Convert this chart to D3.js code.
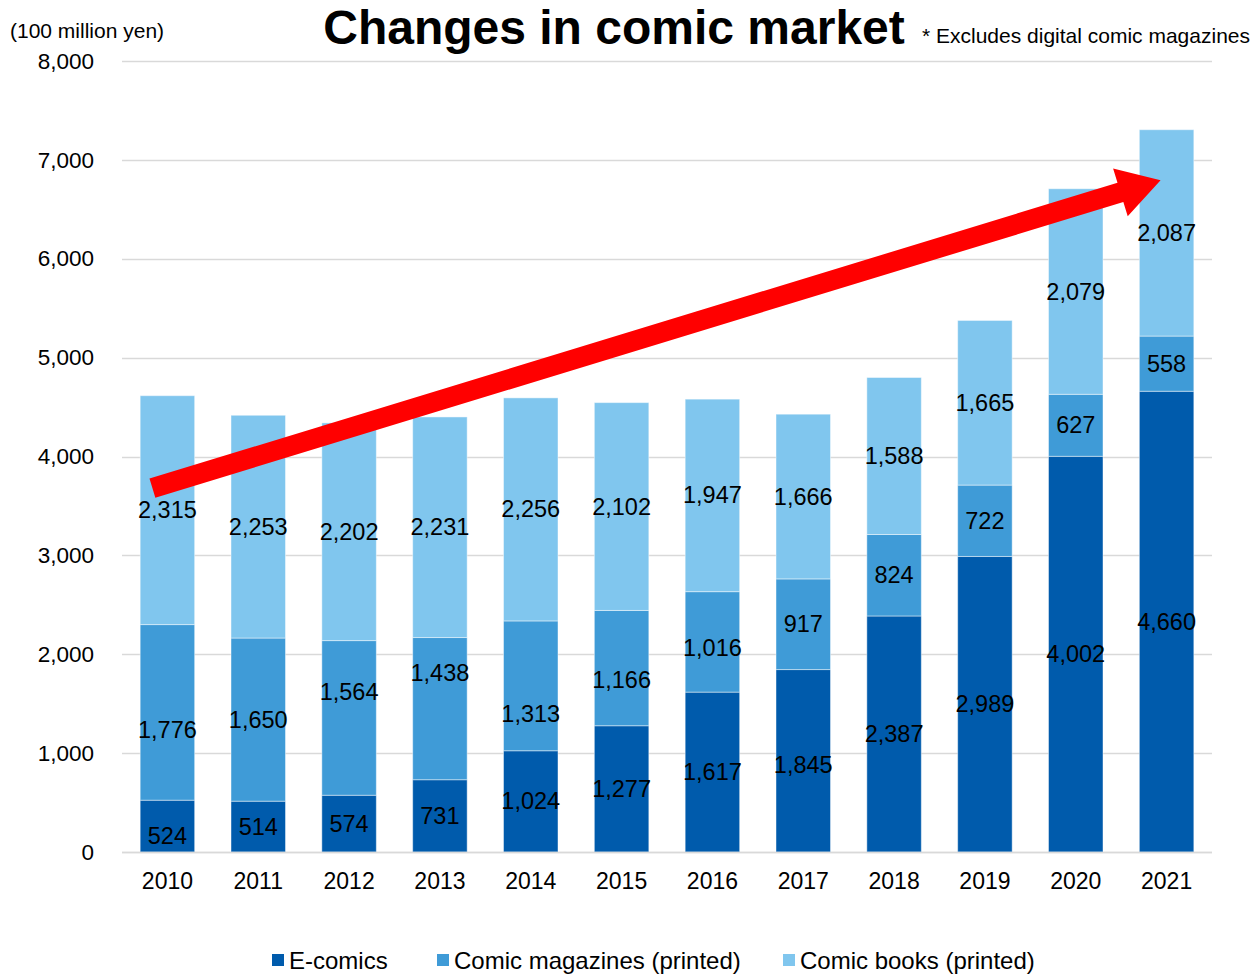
<!DOCTYPE html>
<html>
<head>
<meta charset="utf-8">
<script src="https://cdn.jsdelivr.net/npm/d3@7/dist/d3.min.js"></script>
<style>
  html, body { margin: 0; padding: 0; background: #fff; }
  svg { display: block; font-family: "Liberation Sans", Arial, sans-serif; }
</style>
</head>
<body>
<svg id="chart" width="1252" height="974"></svg>
<script>
// Comic market size, in 100 million yen
const years = ["2010","2011","2012","2013","2014","2015","2016","2017","2018","2019","2020","2021"];
const eComics = [524, 514, 574, 731, 1024, 1277, 1617, 1845, 2387, 2989, 4002, 4660];
const comicMagazines = [1776, 1650, 1564, 1438, 1313, 1166, 1016, 917, 824, 722, 627, 558];
const comicBooks = [2315, 2253, 2202, 2231, 2256, 2102, 1947, 1666, 1588, 1665, 2079, 2087];
const seriesNames = ["E-comics", "Comic magazines (printed)", "Comic books (printed)"];
const yTicks = [0, 1000, 2000, 3000, 4000, 5000, 6000, 7000, 8000];

const colors = ["#005bac", "#3f9bd7", "#80c6ee"];

const svg = d3.select("#chart");
const x = d3.scaleBand().domain(years).range([122, 1212]).paddingInner(0.4).paddingOuter(0.2);
const y = d3.scaleLinear().domain([0, 8000]).range([852, 61]);

// gridlines
svg.append("g").selectAll("line").data(yTicks).join("line")
  .attr("x1", 122).attr("x2", 1212)
  .attr("y1", d => Math.round(y(d)) + 0.5).attr("y2", d => Math.round(y(d)) + 0.5)
  .attr("stroke", "#d9d9d9").attr("stroke-width", 1.5);

// y axis labels
const yAxis = d3.axisLeft(y).tickValues(yTicks).tickFormat(d3.format(",")).tickSize(0).tickPadding(0);
const gy = svg.append("g").attr("transform", "translate(94,0)").call(yAxis);
gy.select(".domain").remove();
gy.selectAll("text").attr("font-size", 22.5).attr("fill", "#000").attr("font-family", "Liberation Sans, Arial, sans-serif");

// stacked data
const rows = years.map((yr, i) => ({ year: yr, e: eComics[i], m: comicMagazines[i], b: comicBooks[i] }));
const stack = d3.stack().keys(["e", "m", "b"]);
const layers = stack(rows);

const gBars = svg.append("g");
layers.forEach((layer, li) => {
  gBars.append("g").selectAll("rect").data(layer).join("rect")
    .attr("x", d => x(d.data.year))
    .attr("width", x.bandwidth())
    .attr("y", d => y(d[1]))
    .attr("height", d => y(d[0]) - y(d[1]))
    .attr("fill", colors[li])
    .attr("stroke", "rgba(255,255,255,0.45)")
    .attr("stroke-width", 1);
});

// value labels (hand-tuned vertical nudges for the printed magazines series)
const labelNudge = [
  [10, 0, 0, 0, 0, 0, 0, 4, 0, 0, 0, 0],
  [18, 0, -26, -36, 28, 12, 6, 0, 0, 0, 0, 0],
  [0, 0, 0, 0, 0, 0, 0, 0, 0, 0, 0, 0]
];
const fmt = d3.format(",");
layers.forEach((layer, li) => {
  svg.append("g").selectAll("text").data(layer).join("text")
    .attr("x", d => x(d.data.year) + x.bandwidth() / 2)
    .attr("y", (d, i) => (y(d[0]) + y(d[1])) / 2 + labelNudge[li][i])
    .attr("text-anchor", "middle")
    .attr("dominant-baseline", "central")
    .attr("font-size", 23.5)
    .attr("fill", "#000")
    .text(d => fmt(d[1] - d[0]));
});

// x axis labels
const xAxis = d3.axisBottom(x).tickSize(0).tickPadding(0);
const gx = svg.append("g").attr("transform", "translate(0,873)").call(xAxis);
gx.select(".domain").remove();
gx.selectAll("text").attr("font-size", 23).attr("fill", "#000").attr("font-family", "Liberation Sans, Arial, sans-serif");

// baseline
svg.append("line").attr("x1", 122).attr("x2", 1212)
  .attr("y1", Math.round(y(0)) + 0.5).attr("y2", Math.round(y(0)) + 0.5)
  .attr("stroke", "#d9d9d9").attr("stroke-width", 1.5);

// growth arrow, anchored in data coordinates
const arrowStart = [x("2010") + x.bandwidth() / 2 - 15, y(3680)];
const arrowTip = [x("2021") + x.bandwidth() / 2 - 6, y(6795)];
(function drawArrow(p0, p1) {
  const dx = p1[0] - p0[0], dy = p1[1] - p0[1];
  const len = Math.hypot(dx, dy);
  const ux = dx / len, uy = dy / len;
  const nx = -uy, ny = ux;
  const halfShaft = 10, headLen = 42, halfHead = 25;
  const bx = p1[0] - ux * headLen, by = p1[1] - uy * headLen;
  const pts = [
    [p0[0] + nx * halfShaft, p0[1] + ny * halfShaft],
    [bx + nx * halfShaft, by + ny * halfShaft],
    [bx + nx * halfHead, by + ny * halfHead],
    p1,
    [bx - nx * halfHead, by - ny * halfHead],
    [bx - nx * halfShaft, by - ny * halfShaft],
    [p0[0] - nx * halfShaft, p0[1] - ny * halfShaft]
  ];
  svg.append("path").attr("d", d3.line()(pts) + "Z").attr("fill", "#ff0000");
})(arrowStart, arrowTip);

// titles and notes
svg.append("text").attr("x", 614).attr("y", 44).attr("text-anchor", "middle")
  .attr("font-size", 48).attr("font-weight", "bold").attr("fill", "#000")
  .text("Changes in comic market");
svg.append("text").attr("x", 10).attr("y", 38).attr("font-size", 21).attr("fill", "#000")
  .text("(100 million yen)");
svg.append("text").attr("x", 1250).attr("y", 43).attr("text-anchor", "end").attr("font-size", 21).attr("fill", "#000")
  .text("* Excludes digital comic magazines");

// legend
const legendX = [272, 437, 783];
const lg = svg.append("g");
seriesNames.forEach((name, i) => {
  lg.append("rect").attr("x", legendX[i]).attr("y", 954).attr("width", 12).attr("height", 12).attr("fill", colors[i]);
  lg.append("text").attr("x", legendX[i] + 17).attr("y", 960).attr("dominant-baseline", "central")
    .attr("font-size", 24).attr("fill", "#000").text(name);
});
</script>
</body>
</html>
